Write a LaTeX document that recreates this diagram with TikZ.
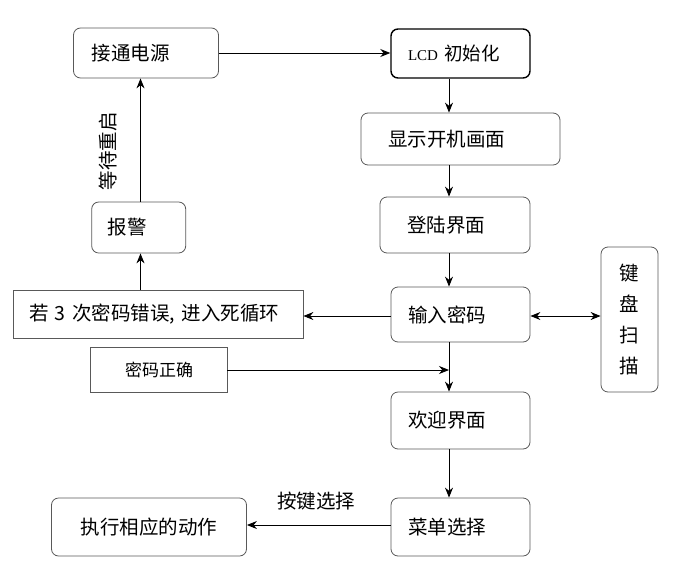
\documentclass[tikz,border=0pt]{standalone}
\usepackage{fontspec}
\setmainfont{Liberation Serif}
\newfontfamily\cjk{Noto Sans CJK SC}
\usetikzlibrary{arrows.meta}
\begin{document}
\begin{tikzpicture}[x=1pt,y=-1pt,
  base/.style={draw=black!65, line width=0.8pt, inner ysep=0pt, inner xsep=0pt, align=left,
    font=\cjk\fontsize{19.5}{22}\selectfont},
  rbox/.style={base, rounded corners=7pt},
  sbox/.style={base},
  arr/.style={-{Stealth[length=10pt,width=8pt]}, line width=0.9pt},
  darr/.style={{Stealth[length=10pt,width=8pt]}-{Stealth[length=10pt,width=8pt]}, line width=0.9pt},
  lbl/.style={font=\cjk\fontsize{19.5}{22}\selectfont, inner sep=0pt}]
\useasboundingbox (0,0) rectangle (674,562);
% nodes
\node[rbox, text width=145pt, minimum height=50pt] (power) at (146,53) {\hspace*{18pt}接通电源};
\node[rbox, draw=black, line width=1.4pt, text width=139pt, minimum height=49pt,
  font=\cjk\fontsize{18.5}{22}\selectfont] (lcd) at (460.5,53.5)
  {\hspace*{17pt}{\rmfamily\fontsize{15}{18}\selectfont LCD} 初始化};
\node[rbox, text width=199pt, minimum height=52pt] (show) at (460.5,139) {\hspace*{27pt}显示开机画面};
\node[rbox, text width=150pt, minimum height=56pt] (login) at (455,225) {\hspace*{27pt}登陆界面};
\node[rbox, text width=139pt, minimum height=55pt] (input) at (460.5,314.5) {\hspace*{17pt}输入密码};
\node[rbox, text width=57pt, align=center, minimum height=145pt,
  font=\cjk\fontsize{19.5}{31}\selectfont] (kbd) at (629.5,319.5)
  {键\\盘\\扫\\描};
\node[rbox, text width=94pt, minimum height=51pt] (alarm) at (138.7,227.5) {\hspace*{16pt}报警};
\node[sbox, text width=290pt, minimum height=48pt] (wrong) at (158,314)
  {\hspace*{16pt}若 3 次密码错误, 进入死循环};
\node[sbox, text width=137pt, minimum height=45pt,
  font=\cjk\fontsize{17}{20}\selectfont] (correct) at (158.5,369.5) {\hspace*{35pt}密码正确};
\node[rbox, text width=139pt, minimum height=57pt] (welcome) at (460.5,420.5) {\hspace*{17pt}欢迎界面};
\node[rbox, text width=139pt, minimum height=58pt] (menu) at (460.5,527) {\hspace*{17pt}菜单选择};
\node[rbox, text width=195pt, minimum height=58pt] (exec) at (149,527) {\hspace*{29pt}执行相应的动作};
% helper coordinates
\coordinate (vx) at (449,0);
\coordinate (ax) at (140.5,0);
% connectors
\draw[arr] (power.east) -- (lcd.west |- power.east);
\draw[arr] (lcd.south -| vx) -- (show.north -| vx);
\draw[arr] (show.south -| vx) -- (login.north -| vx);
\draw[arr] (login.south -| vx) -- (input.north -| vx);
\draw[arr] (input.west |- 0,316) -- (wrong.east |- 0,316);
\draw[darr] (input.east |- 0,316) -- (kbd.west |- 0,316);
\draw[arr] (wrong.north -| ax) -- (alarm.south -| ax);
\draw[arr] (alarm.north -| ax) -- (power.south -| ax);
\node[lbl, rotate=90] (wait) at (108.5,151) {等待重启};
\draw[arr] (input.south -| vx) -- (welcome.north -| vx);
\draw[arr] (correct.east |- 0,370) -- (vx |- 0,370);
\draw[arr] (welcome.south -| vx) -- (menu.north -| vx);
\draw[arr] (menu.west |- 0,525) -- (exec.east |- 0,525);
\node[lbl] (keysel) at (316,501) {按键选择};
\end{tikzpicture}
\end{document}
